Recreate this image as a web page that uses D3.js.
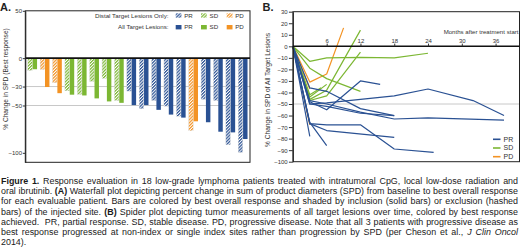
<!DOCTYPE html>
<html>
<head>
<meta charset="utf-8">
<script src="https://cdn.jsdelivr.net/npm/d3@7"></script>
<style>
  body { margin: 0; background: #fff; }
  #figure { position: relative; width: 520px; height: 252px; overflow: hidden; font-family: "Liberation Sans", Arial, sans-serif; }
  #figure svg { position: absolute; left: 0; top: 0; }
  #caption { position: absolute; left: 1px; top: 176px; width: 517px; color: #1a1a1a; font-size: 9px; }
  #caption .line { height: 10.2px; line-height: 10.2px; text-align: justify; text-align-last: justify; }
  #caption .line.last { text-align-last: left; }
</style>
</head>
<body>
<div id="figure"></div>
<script>
// ---- Panel A: waterfall, one pair of bars per patient ----
const patientIds = ["1", "2", "3", "4", "5", "6", "7", "8", "9", "10", "11", "12", "13", "14", "15", "16", "17", "18"];
const bestResponse = ["SD", "PD", "PD", "SD", "SD", "SD", "SD", "SD", "PR", "PR", "PR", "PR", "PR", "PD", "PR", "PR", "PR", "PR"];
const distalChange = [-13, -12, -26, -34.5, -38.3, -24.5, -21.3, -44.7, -34.8, -53.5, -44.7, -50.7, -61.3, -76.6, -43.6, -44.7, -91.5, -99.6];
const allChange = [-11.7, -30.5, -37, -38.6, -39.4, -42.5, -45.7, -47.2, -49.6, -49.6, -54.6, -59.6, -62.8, -66.7, -67.7, -77.7, -78.4, -85.4];
const waterfallTicks = [50, 0, -30, -50, -100];
const waterfallGrid = [-30, -50];

// ---- Panel B: spider plot, [month, % change] per patient ----
const spiderResponse = ["PD", "PD", "PD", "SD", "SD", "SD", "SD", "SD", "SD", "PR", "PR", "PR", "PR", "PR", "PR", "PR", "PR", "PR"];
const spiderSeries = [
  [[0, 0], [3, -31], [6, -24], [9, 16]],
  [[0, 0], [3, -37]],
  [[0, 0], [3, -68]],
  [[0, 0], [3, -13], [6, -10], [12, -9.5], [18, -10], [24, -6]],
  [[0, 0], [3, -19], [6, -28], [12, -39]],
  [[0, 0], [3, -46], [6, -38], [12, 14]],
  [[0, 0], [3, -47], [6, -43], [12, -5]],
  [[0, 0], [3, -44], [6, -33]],
  [[0, 0], [3, -42], [5, -36]],
  [[0, 0], [3, -48], [6, -55], [12, -30], [15.5, -33]],
  [[0, 0], [3, -50], [6, -49], [12, -46], [18, -43], [24, -37], [32, -47], [37.5, -60]],
  [[0, 0], [3, -36], [6, -39], [12, -54], [18, -60]],
  [[0, 0], [3, -47], [6, -50], [12, -57], [18, -63], [24, -62], [37.5, -64]],
  [[0, 0], [3, -67], [6, -73], [18, -79]],
  [[0, 0], [3, -67], [6, -68], [12, -68], [18, -89], [25, -92]],
  [[0, 0], [3, -78]],
  [[0, 0], [3, -66], [6, -86]],
  [[0, 0], [3, -50], [6, -52], [12, -58], [18, -60]]
];
const spiderMonthTicks = [6, 12, 18, 24, 30, 36];
const spiderValueTicks = [30, 20, 10, 0, -10, -20, -30, -40, -50, -60, -70, -80, -90, -100];

const responseTypes = ["PR", "SD", "PD"];
const responseColors = { PR: "#2a5193", SD: "#7cb733", PD: "#f39324" };

const captionLines = [
  [["Figure 1.", "b"], [" Response evaluation in 18 low-grade lymphoma patients treated with intratumoral CpG, local low-dose radiation and"]],
  [["oral ibrutinib. "], ["(A)", "b"], [" Waterfall plot depicting percent change in sum of product diameters (SPD) from baseline to best overall response"]],
  [["for each evaluable patient. Bars are colored by best overall response and shaded by inclusion (solid bars) or exclusion (hashed"]],
  [["bars) of the injected site. "], ["(B)", "b"], [" Spider plot depicting tumor measurements of all target lesions over time, colored by best response"]],
  [["achieved.\u00a0 PR, partial response. SD, stable disease. PD, progressive disease. Note that all 3 patients with progressive disease as"]],
  [["best response progressed at non-index or single index sites rather than progression by SPD (per Cheson et al., "], ["J Clin Oncol", "i"]],
  [["2014)."]]
];

const FONT = '"Liberation Sans", Arial, sans-serif';
const TEXT_COLOR = "#333";

const svg = d3.select("#figure").append("svg")
  .attr("width", 520)
  .attr("height", 176);

// hatch patterns for "distal target lesions only" bars
const defs = svg.append("defs");
responseTypes.forEach(r => {
  const p = defs.append("pattern")
    .attr("id", `hatch-${r}`)
    .attr("patternUnits", "userSpaceOnUse")
    .attr("width", 2.2)
    .attr("height", 2.2)
    .attr("patternTransform", "rotate(45)");
  p.append("rect").attr("width", 2.2).attr("height", 2.2).attr("fill", "#fff");
  p.append("rect").attr("width", 1.2).attr("height", 2.2).attr("fill", responseColors[r]);
});

function panelLetter(x, label) {
  svg.append("text")
    .attr("x", x)
    .attr("y", 10.5)
    .style("font-family", FONT)
    .style("font-size", "11px")
    .style("font-weight", "bold")
    .style("fill", "#222")
    .text(label);
}

function styleAxis(g, fontSize) {
  g.selectAll("text")
    .style("font-family", FONT)
    .style("font-size", fontSize)
    .style("fill", TEXT_COLOR);
  g.selectAll("line").style("stroke", "#333");
  g.select(".domain").style("stroke", "#222");
}

/**
 * Waterfall plot (panel A)
 */
function renderWaterfall() {
  const left = 25.3, right = 250, top = 10.8, bottom = 162.3;
  const g = svg.append("g");

  const x = d3.scaleBand(patientIds, [left, right]).paddingInner(0.25).paddingOuter(0.2);
  const sub = d3.scaleBand(["distal", "all"], [0, x.bandwidth()]).paddingInner(0.08);
  const y = d3.scaleLinear([-110, 50], [bottom, top]);

  g.selectAll(".grid")
    .data(waterfallGrid)
    .join("line")
    .attr("x1", left).attr("x2", right)
    .attr("y1", d => y(d)).attr("y2", d => y(d))
    .style("stroke", "#c8c8c8")
    .style("stroke-width", 1);

  const rows = patientIds.map((id, i) => ({ id, r: bestResponse[i], distal: distalChange[i], all: allChange[i] }));

  g.selectAll(".bar-distal")
    .data(rows)
    .join("rect")
    .attr("x", d => x(d.id) + sub("distal"))
    .attr("y", y(0))
    .attr("width", sub.bandwidth())
    .attr("height", d => y(d.distal) - y(0))
    .attr("fill", d => `url(#hatch-${d.r})`)
    .attr("stroke", "#d6d6d6")
    .attr("stroke-width", 0.4);

  g.selectAll(".bar-all")
    .data(rows)
    .join("rect")
    .attr("x", d => x(d.id) + sub("all"))
    .attr("y", y(0))
    .attr("width", sub.bandwidth())
    .attr("height", d => y(d.all) - y(0))
    .attr("fill", d => responseColors[d.r]);

  // frame and zero line
  g.append("rect")
    .attr("x", left).attr("y", top)
    .attr("width", right - left).attr("height", bottom - top)
    .attr("fill", "none")
    .style("stroke", "#222")
    .style("stroke-width", 1);

  g.append("line")
    .attr("x1", left).attr("x2", right)
    .attr("y1", y(0)).attr("y2", y(0))
    .style("stroke", "#111")
    .style("stroke-width", 1.6);

  const axis = g.append("g")
    .attr("transform", `translate(${left},0)`)
    .call(d3.axisLeft(y).tickValues(waterfallTicks).tickSize(2.5).tickPadding(0.8).tickSizeOuter(0));
  styleAxis(axis, "6px");

  g.append("text")
    .attr("transform", "translate(7.5,79) rotate(-90)")
    .attr("text-anchor", "middle")
    .style("font-family", FONT)
    .style("font-size", "6.6px")
    .style("fill", TEXT_COLOR)
    .text("% Change in SPD (Best response)");

  // legend
  const legendRows = [
    { label: "Distal Target Lesions Only:", y: 15.5, fill: r => `url(#hatch-${r})` },
    { label: "All Target Lesions:", y: 27.2, fill: r => responseColors[r] }
  ];
  const swatchX = { PR: 175.7, SD: 201, PD: 226.7 };
  legendRows.forEach(row => {
    g.append("text")
      .attr("x", 168.5).attr("y", row.y)
      .attr("dy", "0.35em")
      .attr("text-anchor", "end")
      .style("font-family", FONT)
      .style("font-size", "6.2px")
      .style("fill", TEXT_COLOR)
      .text(row.label);
    responseTypes.forEach(r => {
      g.append("rect")
        .attr("x", swatchX[r]).attr("y", row.y - 2.2)
        .attr("width", 5.8).attr("height", 4.4)
        .attr("fill", row.fill(r));
      g.append("text")
        .attr("x", swatchX[r] + 8.5).attr("y", row.y)
        .attr("dy", "0.35em")
        .style("font-family", FONT)
        .style("font-size", "6.2px")
        .style("fill", TEXT_COLOR)
        .text(r);
    });
  });

  panelLetter(0, "A.");
}

/**
 * Spider plot (panel B)
 */
function renderSpider() {
  const left = 292.9, right = 519.5, top = 11.7, bottom = 161.7;
  const g = svg.append("g");

  const x = d3.scaleLinear([0, 40], [left, left + 40 * 5.63]);
  const y = d3.scaleLinear([-100, 30], [bottom, top]);

  g.append("line")
    .attr("x1", left).attr("x2", right)
    .attr("y1", y(-50)).attr("y2", y(-50))
    .style("stroke", "#c8c8c8")
    .style("stroke-width", 1);

  const line = d3.line().x(d => x(d[0])).y(d => y(d[1]));
  g.selectAll(".spider")
    .data(spiderSeries)
    .join("path")
    .attr("d", line)
    .attr("fill", "none")
    .style("stroke", (d, i) => responseColors[spiderResponse[i]])
    .style("stroke-width", 1.2)
    .style("stroke-linejoin", "round");

  g.append("rect")
    .attr("x", left).attr("y", top)
    .attr("width", right - left).attr("height", bottom - top)
    .attr("fill", "none")
    .style("stroke", "#222")
    .style("stroke-width", 1);

  const yAxis = g.append("g")
    .attr("transform", `translate(${left},0)`)
    .call(d3.axisLeft(y).tickValues(spiderValueTicks).tickSize(4).tickPadding(1.2).tickSizeOuter(0));
  styleAxis(yAxis, "6px");

  const xAxis = g.append("g")
    .attr("transform", `translate(0,${y(0)})`)
    .call(d3.axisTop(x).tickValues(spiderMonthTicks).tickSize(2.7).tickPadding(1).tickSizeOuter(0));
  styleAxis(xAxis, "6px");
  xAxis.select(".domain").attr("d", `M${left},0H${right}`).style("stroke", "#111").style("stroke-width", 1.6);

  g.append("text")
    .attr("x", 518.5).attr("y", 32)
    .attr("dy", "0.35em")
    .attr("text-anchor", "end")
    .style("font-family", FONT)
    .style("font-size", "6.1px")
    .style("fill", TEXT_COLOR)
    .text("Months after treatment start");

  g.append("text")
    .attr("transform", "translate(270,90) rotate(-90)")
    .attr("text-anchor", "middle")
    .style("font-family", FONT)
    .style("font-size", "6.6px")
    .style("fill", TEXT_COLOR)
    .text("% Change in SPD of All Target Lesions");

  // legend
  const legend = g.selectAll(".legend")
    .data(responseTypes)
    .join("g")
    .attr("transform", (d, i) => `translate(493,${139.3 + i * 8.7})`);
  legend.append("line")
    .attr("x1", 0).attr("x2", 7.5)
    .style("stroke", d => responseColors[d])
    .style("stroke-width", 1.6);
  legend.append("text")
    .attr("x", 10.5)
    .attr("dy", "0.35em")
    .style("font-family", FONT)
    .style("font-size", "7px")
    .style("fill", TEXT_COLOR)
    .text(d => d);

  panelLetter(262.5, "B.");
}

/**
 * Caption under the figure, one justified line per row
 */
function renderCaption() {
  const cap = d3.select("#figure").append("div").attr("id", "caption");
  const lines = cap.selectAll(".line")
    .data(captionLines)
    .join("div")
    .attr("class", (d, i) => i === captionLines.length - 1 ? "line last" : "line");
  lines.selectAll("span")
    .data(d => d)
    .join("span")
    .style("font-weight", d => d[1] === "b" ? "bold" : null)
    .style("font-style", d => d[1] === "i" ? "italic" : null)
    .text(d => d[0]);

  // shrink the font until the longest line fits on one row
  let widest = 0;
  lines.each(function () {
    this.style.display = "inline-block";
    this.style.whiteSpace = "nowrap";
    widest = Math.max(widest, this.getBoundingClientRect().width);
    this.style.display = "";
    this.style.whiteSpace = "";
  });
  const size = Math.min(9, 9 * 515 / widest);
  cap.style("font-size", `${size}px`);
}

renderWaterfall();
renderSpider();
renderCaption();
</script>
</body>
</html>
